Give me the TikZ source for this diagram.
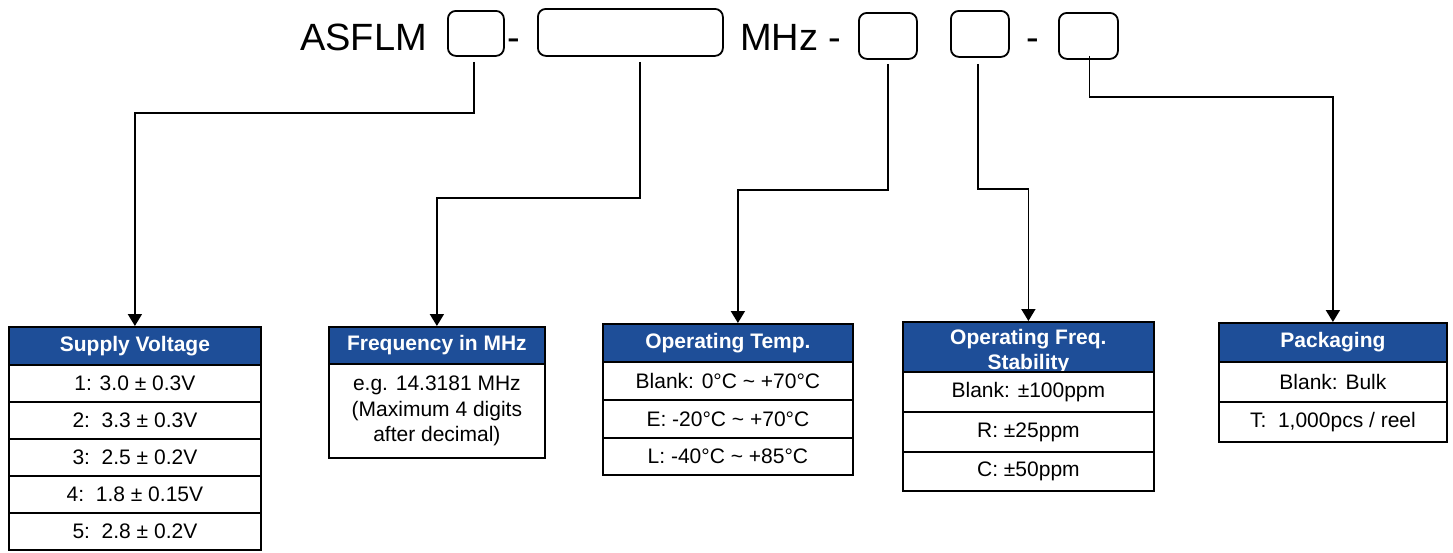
\documentclass[tikz,border=0pt]{standalone}
\usepackage{fontspec}
\setmainfont{Liberation Sans}
\usetikzlibrary{arrows.meta}
\definecolor{hblue}{RGB}{30,78,152}
\begin{document}
\begin{tikzpicture}[x=1pt,y=-1pt,
  topbox/.style={draw,line width=1.8pt,rounded corners=8pt,inner sep=0,anchor=north west},
  bigtext/.style={font=\fontsize{38}{40}\selectfont,inner sep=0},
  hdr/.style={draw,line width=1.8pt,fill=hblue,anchor=north west,inner sep=0,text=white,
    font=\bfseries\fontsize{21}{25}\selectfont,align=center},
  cell/.style={draw,line width=1.8pt,fill=white,anchor=north west,inner sep=0,
    font=\fontsize{21}{25.5}\selectfont,align=center},
  conn/.style={line width=1.8pt,-{Triangle[length=12pt,width=14pt]}}]
\useasboundingbox (0,0) rectangle (1453,552);

% ---- top code line ----
\node[bigtext,anchor=base east] (asflm) at (427,50) {ASFLM};
\node[topbox,minimum width=56pt,minimum height=45pt] (b1) at (447,10) {};
\node[bigtext,anchor=base west] (d1) at (507,50) {-};
\node[topbox,minimum width=185pt,minimum height=47pt] (b2) at (537,8) {};
\node[bigtext,anchor=base west] (mhz) at (740,50) {MHz -};
\node[topbox,minimum width=58pt,minimum height=46pt] (b3) at (858,12) {};
\node[topbox,minimum width=58pt,minimum height=46pt] (b4) at (950,10) {};
\node[bigtext,anchor=base west] (d2) at (1026,50) {-};
\node[topbox,minimum width=59pt,minimum height=46pt] (b5) at (1058,12) {};

% ---- table 1: supply voltage ----
\node[hdr,minimum width=252pt,minimum height=38pt] (t1h) at (8,326) {Supply Voltage};
\node[cell,minimum width=252pt,minimum height=37pt] (t1r1) at (8,364) {1: 3.0 ± 0.3V};
\node[cell,minimum width=252pt,minimum height=37pt] (t1r2) at (8,401) {2:\ \ 3.3 ± 0.3V};
\node[cell,minimum width=252pt,minimum height=37pt] (t1r3) at (8,438) {3:\ \ 2.5 ± 0.2V};
\node[cell,minimum width=252pt,minimum height=37pt] (t1r4) at (8,475) {4:\ \ 1.8 ± 0.15V};
\node[cell,minimum width=252pt,minimum height=37pt] (t1r5) at (8,512) {5:\ \ 2.8 ± 0.2V};

% ---- table 2: frequency ----
\node[hdr,minimum width=216pt,minimum height=37pt] (t2h) at (328,326) {Frequency in MHz};
\node[cell,minimum width=216pt,minimum height=94pt] (t2r1) at (328,363) {e.g. 14.3181 MHz\\(Maximum 4 digits\\after decimal)};

% ---- table 3: operating temp ----
\node[hdr,minimum width=250pt,minimum height=38pt] (t3h) at (602,323) {Operating Temp.};
\node[cell,minimum width=250pt,minimum height=38pt] (t3r1) at (602,361) {Blank: 0°C \textasciitilde\ +70°C};
\node[cell,minimum width=250pt,minimum height=38pt] (t3r2) at (602,399) {E: -20°C \textasciitilde\ +70°C};
\node[cell,minimum width=250pt,minimum height=37pt] (t3r3) at (602,437) {L: -40°C \textasciitilde\ +85°C};

% ---- table 4: stability ----
\node[hdr,minimum width=251pt,minimum height=50pt] (t4h) at (902,321) {};
\node[text=white,font=\bfseries\fontsize{21}{25}\selectfont,align=center,inner sep=0] (t4ht)
  at ([yshift=-5pt]t4h.center) {Operating Freq.\\Stability};
\node[cell,minimum width=251pt,minimum height=40pt] (t4r1) at (902,371) {Blank: ±100ppm};
\node[cell,minimum width=251pt,minimum height=40pt] (t4r2) at (902,411) {R: ±25ppm};
\node[cell,minimum width=251pt,minimum height=39pt] (t4r3) at (902,451) {C: ±50ppm};

% ---- table 5: packaging ----
\node[hdr,minimum width=228pt,minimum height=39pt] (t5h) at (1218,322) {Packaging};
\node[cell,minimum width=228pt,minimum height=40pt] (t5r1) at (1218,361) {Blank: Bulk};
\node[cell,minimum width=228pt,minimum height=40pt] (t5r2) at (1218,401) {T:\ \ 1,000pcs / reel};

% ---- connectors ----
\draw[conn] ([xshift=-2pt,yshift=-5pt]b1.south) -- ++(0,51) -| (t1h.north);
\draw[conn] ([xshift=9.5pt,yshift=-5pt]b2.south) -- ++(0,136) -| (t2h.north);
\draw[conn] ([yshift=-4pt]b3.south) -- ++(0,126) -| ([xshift=10pt]t3h.north);
\draw[conn] ([xshift=-2pt,yshift=-6pt]b4.south) -- ++(0,125) -| (t4h.north);
\draw[conn] ([xshift=1pt,yshift=4pt]b5.south) -- ++(0,41) -| (t5h.north);
\end{tikzpicture}
\end{document}
